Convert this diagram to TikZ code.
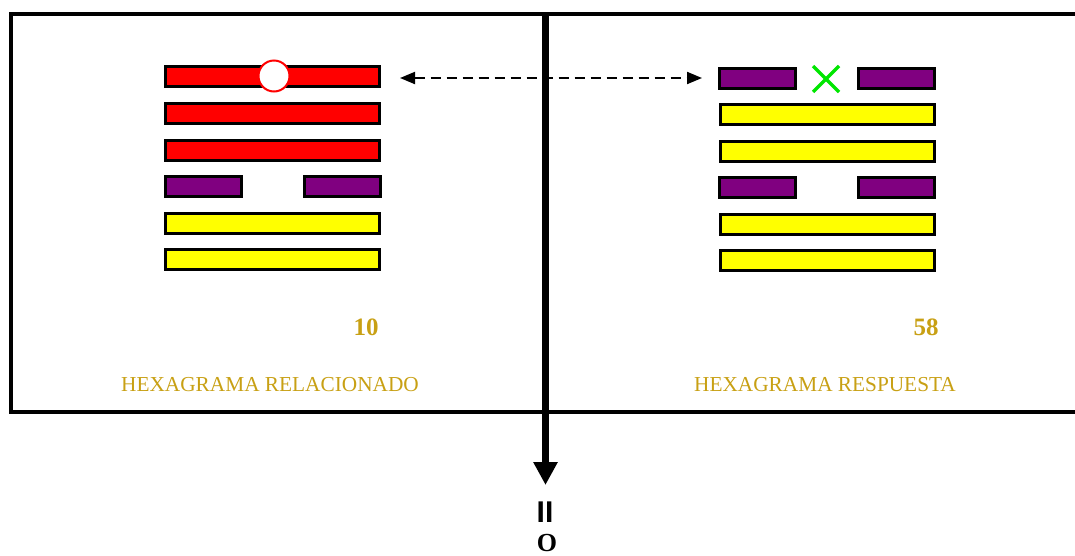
\documentclass[tikz,border=0pt]{standalone}
\usepackage{fontspec}
\setmainfont{Liberation Serif}
\newfontfamily\sansbold{Liberation Sans}
\usetikzlibrary{arrows.meta}
\definecolor{goldtxt}{RGB}{200,160,20}
\definecolor{hpurple}{RGB}{128,0,128}
\definecolor{hyellow}{RGB}{255,255,0}
\definecolor{hred}{RGB}{255,0,0}
\definecolor{hgreen}{RGB}{0,230,0}
\begin{document}
\begin{tikzpicture}[x=1pt,y=-1pt,
  frameline/.style={line width=4pt,line cap=rect},
  fullbar/.style={draw=black,line width=3pt,rectangle,inner sep=0pt,minimum width=214pt,minimum height=20pt},
  halfbar/.style={draw=black,line width=3pt,rectangle,inner sep=0pt,minimum width=76pt,minimum height=20pt},
  numtxt/.style={text=goldtxt,font=\fontsize{25}{25}\selectfont\bfseries,inner sep=0pt},
  captxt/.style={text=goldtxt,font=\fontsize{21.3}{22}\selectfont,inner sep=0pt},
  dasharrow/.style={dashed,dash pattern=on 10pt off 6pt,line width=2pt,{Triangle[width=12pt,length=15pt]}-{Triangle[width=12pt,length=15pt]}}
]
\useasboundingbox (0,0) rectangle (1075,555);
% frame
\coordinate (ftl) at (11,14);
\coordinate (ftr) at (1077,14);
\coordinate (fbl) at (11,412);
\coordinate (fbr) at (1077,412);
\draw[frameline] (ftr) -- (ftl) -- (fbl) -- (fbr);

% left hexagram (10)
\node[fullbar,fill=hred] (L1) at (272.5,76.5) {};
\node[fullbar,fill=hred] (L2) at (272.5,113.5) {};
\node[fullbar,fill=hred] (L3) at (272.5,150) {};
\node[halfbar,fill=hpurple] (L4a) at (203,186.5) {};
\node[halfbar,fill=hpurple] (L4b) at (342,186.5) {};
\node[fullbar,fill=hyellow] (L5) at (272.5,223) {};
\node[fullbar,fill=hyellow] (L6) at (272.5,259.5) {};
\node[circle,draw=hred,fill=white,line width=2pt,minimum size=31pt,inner sep=0pt] (moving) at (274,76) {};

% right hexagram (58)
\node[halfbar,fill=hpurple] (R1a) at (757.5,78.5) {};
\node[halfbar,fill=hpurple] (R1b) at (896.5,78.5) {};
\node[fullbar,fill=hyellow] (R2) at (827,114.5) {};
\node[fullbar,fill=hyellow] (R3) at (827,151) {};
\node[halfbar,fill=hpurple] (R4a) at (757.5,187.5) {};
\node[halfbar,fill=hpurple] (R4b) at (896.5,187.5) {};
\node[fullbar,fill=hyellow] (R5) at (827,224) {};
\node[fullbar,fill=hyellow] (R6) at (827,260.5) {};
\coordinate (xc) at (826,79);
\draw[hgreen,line width=3.5pt] ([shift={(-13,-13)}]xc) -- ([shift={(13,13)}]xc);
\draw[hgreen,line width=3.5pt] ([shift={(-13,13)}]xc) -- ([shift={(13,-13)}]xc);

% dashed double arrow
\coordinate (dl) at (400,78);
\coordinate (dr) at (702,78);
\draw[dasharrow] (dl) -- (dr);

% numbers and captions
\node[numtxt] (n10) at (366,327) {10};
\node[numtxt] (n58) at (926,327) {58};
\node[captxt] (capL) at (270,385) {HEXAGRAMA RELACIONADO};
\node[captxt] (capR) at (825,385) {HEXAGRAMA RESPUESTA};

% vertical arrow
\coordinate (vtop) at (545.5,12);
\coordinate (vbot) at (545.5,485);
\draw[line width=7pt,-{Triangle[width=23pt,length=23pt]}] (vtop) -- (vbot);

% bottom symbols
\node[font=\sansbold\fontsize{30}{30}\selectfont\bfseries,inner sep=0pt,anchor=base] (eq) at (545,522) {II};
\node[font=\fontsize{26}{26}\selectfont\bfseries,inner sep=0pt,anchor=base] (oo) at (547,551) {O};
\end{tikzpicture}
\end{document}
